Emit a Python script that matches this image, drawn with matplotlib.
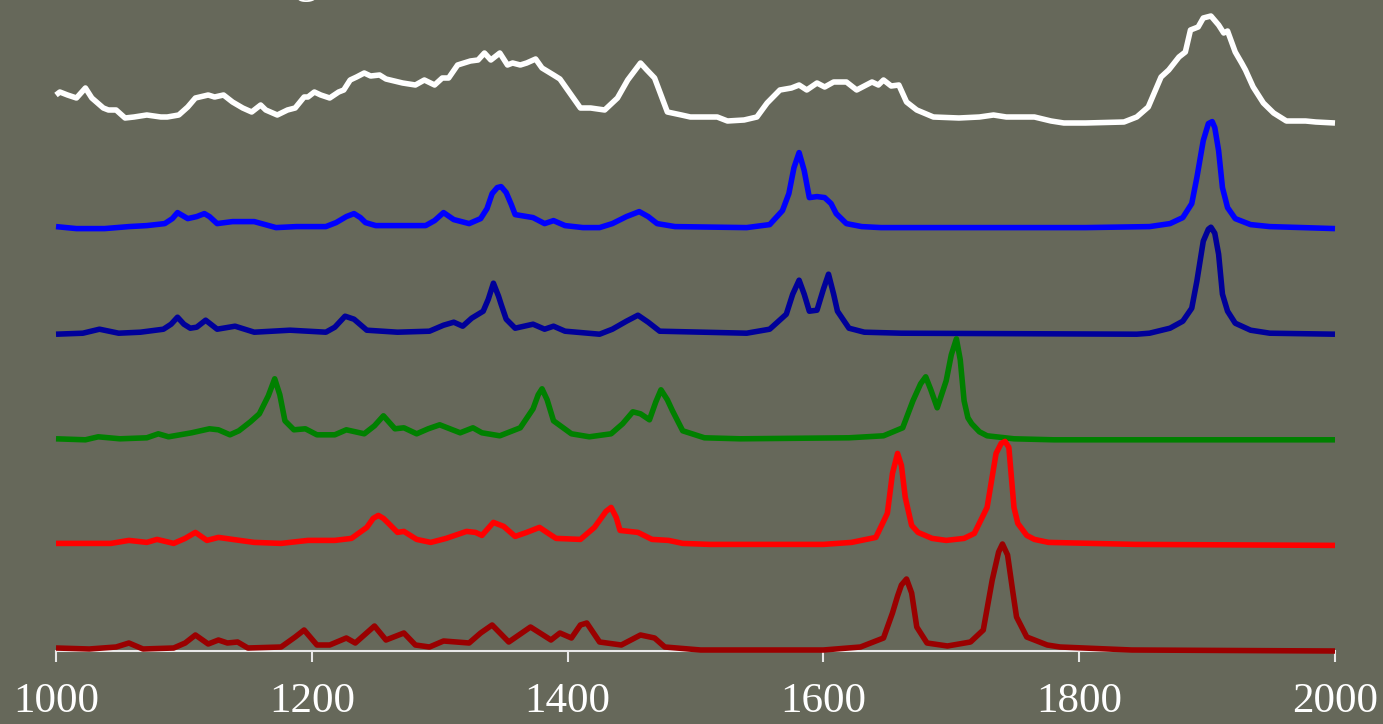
import numpy as np
import matplotlib
matplotlib.use("Agg")
import matplotlib.pyplot as plt

# --- spettri (numero d'onda, intensita' relativa alla propria linea di base) ---
wn_exp = [1000, 1003, 1009, 1016, 1023, 1028, 1037, 1041, 1047, 1054, 1061, 1071, 1082, 1087, 1096,
          1103, 1109, 1119, 1124, 1131, 1138, 1146, 1153, 1160, 1164, 1173, 1181, 1187, 1194, 1197,
          1202, 1207, 1214, 1221, 1225, 1230, 1235, 1241, 1246, 1253, 1258, 1271, 1281, 1288, 1296,
          1302, 1307, 1314, 1319, 1324, 1330, 1335, 1340, 1347, 1353, 1357, 1363, 1368, 1375, 1380,
          1389, 1394, 1410, 1418, 1429, 1439, 1447, 1457, 1462, 1468, 1478, 1489, 1496, 1517, 1525,
          1538, 1548, 1556, 1566, 1575, 1581, 1587, 1595, 1601, 1608, 1618, 1626, 1638, 1643, 1647,
          1653, 1659, 1665, 1673, 1686, 1706, 1722, 1733, 1743, 1765, 1778, 1788, 1805, 1835, 1845,
          1854, 1864, 1870, 1878, 1883, 1887, 1893, 1897, 1903, 1909, 1913, 1916, 1922, 1927, 1930,
          1936, 1944, 1952, 1962, 1977, 1985, 2000]
int_exp = [28, 31, 28, 25, 35, 25, 15, 13, 13, 5, 6, 8, 6, 6, 8,
           16, 25, 28, 26, 28, 21, 15, 11, 18, 13, 8, 13, 15, 26, 26,
           31, 28, 25, 31, 33, 43, 46, 50, 47, 48, 44, 40, 38, 43, 38,
           45, 45, 58, 60, 62, 63, 70, 63, 70, 58, 60, 58, 60, 64, 55,
           48, 44, 15, 15, 13, 25, 43, 60, 53, 45, 11, 8, 6, 6, 2,
           3, 6, 20, 33, 35, 38, 33, 40, 36, 41, 41, 33, 41, 38, 43,
           37, 38, 21, 13, 6, 5, 6, 8, 6, 6, 2, 0, 0, 1, 6,
           16, 46, 53, 66, 71, 93, 96, 105, 107, 98, 90, 92, 71, 60, 53,
           36, 20, 10, 2, 2, 1, 0]

wn_blue = [1000, 1016, 1038, 1057, 1071, 1085, 1091, 1095, 1103, 1110, 1116, 1120, 1126, 1138, 1155,
           1172, 1188, 1211, 1219, 1227, 1233, 1238, 1242, 1250, 1258, 1289, 1296, 1303, 1311, 1323,
           1332, 1337, 1341, 1345, 1348, 1352, 1356, 1359, 1373, 1382, 1389, 1398, 1412, 1425, 1435,
           1446, 1456, 1463, 1470, 1484, 1540, 1558, 1568, 1573, 1577, 1581, 1585, 1589, 1595, 1601,
           1606, 1610, 1618, 1630, 1645, 1805, 1855, 1871, 1881, 1888, 1892, 1897, 1901, 1904, 1906,
           1909, 1912, 1916, 1922, 1934, 1949, 1975, 2000]
int_blue = [2, 0, 0, 2, 3, 5, 10, 16, 10, 12, 15, 12, 5, 7, 7,
            1, 2, 2, 6, 12, 15, 11, 6, 3, 3, 3, 8, 16, 9, 5,
            10, 20, 35, 41, 42, 36, 24, 14, 11, 5, 8, 3, 1, 1, 5,
            12, 17, 12, 5, 2, 1, 4, 18, 35, 61, 76, 58, 31, 32, 31,
            25, 15, 5, 2, 1, 1, 2, 5, 11, 25, 51, 88, 105, 107, 101,
            78, 41, 21, 10, 4, 2, 1, 0]

wn_dblue = [1000, 1021, 1034, 1049, 1066, 1084, 1090, 1095, 1100, 1105, 1110, 1117, 1126, 1140, 1155,
            1183, 1211, 1218, 1226, 1233, 1243, 1267, 1292, 1303, 1311, 1318, 1325, 1334, 1338, 1342,
            1346, 1348, 1352, 1359, 1373, 1382, 1389, 1398, 1425, 1435, 1446, 1455, 1463, 1472, 1540,
            1558, 1571, 1576, 1581, 1585, 1589, 1595, 1600, 1604, 1608, 1611, 1620, 1632, 1661, 1845,
            1855, 1871, 1881, 1888, 1892, 1897, 1901, 1903, 1906, 1909, 1912, 1916, 1922, 1934, 1949,
            2000]
int_dblue = [0, 1, 5, 1, 2, 5, 10, 17, 10, 6, 7, 14, 5, 8, 2,
             4, 2, 7, 18, 15, 4, 2, 3, 9, 12, 8, 16, 23, 35, 51,
             38, 30, 15, 6, 10, 5, 8, 3, 0, 5, 13, 19, 12, 3, 1,
             5, 20, 40, 54, 40, 23, 24, 45, 60, 40, 23, 6, 2, 1, 0,
             1, 6, 13, 26, 53, 93, 105, 107, 101, 80, 40, 23, 11, 4, 1,
             0]

wn_green = [1000, 1023, 1033, 1050, 1071, 1080, 1088, 1106, 1120, 1127, 1136, 1143, 1152, 1159, 1166,
            1171, 1175, 1179, 1186, 1195, 1204, 1218, 1227, 1241, 1249, 1256, 1265, 1272, 1282, 1291,
            1300, 1306, 1316, 1326, 1333, 1347, 1363, 1373, 1377, 1380, 1384, 1389, 1403, 1417, 1434,
            1443, 1451, 1457, 1464, 1469, 1473, 1478, 1482, 1490, 1507, 1535, 1620, 1647, 1662, 1670,
            1676, 1680, 1684, 1689, 1696, 1700, 1704, 1707, 1710, 1713, 1716, 1722, 1728, 1749, 1780,
            1844, 2000]
int_green = [1, 0, 3, 1, 2, 6, 3, 7, 11, 10, 5, 9, 18, 26, 44,
             61, 45, 19, 10, 11, 5, 5, 10, 6, 14, 24, 11, 12, 6, 11,
             15, 12, 7, 12, 7, 4, 12, 31, 45, 51, 40, 19, 6, 3, 6,
             16, 28, 26, 20, 38, 50, 40, 29, 9, 2, 1, 2, 4, 12, 39,
             56, 63, 50, 32, 59, 85, 101, 80, 39, 22, 16, 8, 4, 1, 0,
             0, 0]

wn_red = [1000, 1016, 1043, 1057, 1071, 1079, 1092, 1101, 1109, 1118, 1127, 1138, 1155, 1176, 1197,
          1218, 1231, 1243, 1248, 1252, 1256, 1260, 1267, 1272, 1282, 1293, 1305, 1321, 1328, 1333,
          1342, 1350, 1359, 1368, 1378, 1385, 1391, 1410, 1421, 1430, 1434, 1438, 1441, 1455, 1466,
          1479, 1490, 1511, 1535, 1600, 1622, 1641, 1650, 1654, 1658, 1661, 1664, 1669, 1674, 1685,
          1696, 1710, 1718, 1728, 1735, 1739, 1742, 1745, 1749, 1752, 1759, 1765, 1776, 1844, 2000]
int_red = [2, 2, 2, 5, 3, 6, 2, 7, 13, 5, 8, 6, 3, 2, 5,
           5, 7, 18, 27, 30, 27, 22, 13, 14, 6, 3, 7, 14, 13, 10,
           23, 19, 9, 13, 18, 12, 7, 6, 18, 34, 38, 28, 15, 13, 6,
           5, 2, 1, 1, 1, 3, 8, 32, 72, 92, 80, 48, 20, 13, 7,
           5, 7, 12, 38, 92, 102, 104, 98, 38, 22, 10, 6, 3, 1, 0]

wn_dred = [1000, 1026, 1047, 1057, 1068, 1092, 1101, 1109, 1119, 1127, 1134, 1142, 1150, 1176, 1187,
           1194, 1204, 1214, 1227, 1234, 1249, 1258, 1272, 1281, 1292, 1303, 1323, 1332, 1341, 1354,
           1371, 1387, 1394, 1403, 1410, 1415, 1425, 1442, 1457, 1468, 1476, 1504, 1600, 1629, 1647,
           1654, 1658, 1661, 1665, 1669, 1673, 1681, 1697, 1715, 1725, 1732, 1737, 1740, 1744, 1748,
           1751, 1759, 1775, 1785, 1841, 2000]
int_dred = [3, 2, 4, 8, 2, 3, 8, 16, 7, 11, 8, 9, 3, 4, 14,
            21, 6, 6, 13, 8, 25, 11, 18, 6, 4, 10, 8, 18, 26, 9,
            24, 11, 18, 13, 26, 28, 9, 6, 16, 13, 4, 1, 1, 4, 13,
            38, 55, 66, 72, 58, 24, 8, 5, 9, 21, 71, 99, 107, 96, 60,
            34, 14, 6, 4, 1, 0]

series_x = [wn_exp, wn_blue, wn_dblue, wn_green, wn_red, wn_dred]
series_y = [int_exp, int_blue, int_dblue, int_green, int_red, int_dred]
colori = ['white', '#0000ff', '#00009a', '#008000', '#ff0000', '#9a0000']
xticks = [1000, 1200, 1400, 1600, 1800, 2000]

# spaziatura verticale tra gli spettri
offset_step = 105.6
bg = '#66685a'

fig = plt.figure(figsize=(13.83, 7.24), dpi=100, facecolor=bg)
ax = fig.add_axes([56/1383, 73/724, 1279/1383, 651/724])
ax.set_facecolor(bg)

n = len(series_x)
for i, (xs, ys, c) in enumerate(zip(series_x, series_y, colori)):
    off = (n - 1 - i) * offset_step
    ax.plot(xs, np.array(ys) + off, color=c, lw=4.0, clip_on=False,
            solid_joinstyle='round', solid_capstyle='butt', zorder=2 + i)

ax.set_xlim(1000, 2000)
ax.set_ylim(0, 651)
for s in ['top', 'right', 'left']:
    ax.spines[s].set_visible(False)
ax.spines['bottom'].set_color('#e8e8e8')
ax.spines['bottom'].set_linewidth(1.5)
ax.spines['bottom'].set_zorder(1)
ax.set_yticks([])
ax.set_xticks(xticks)
ax.set_xticklabels([str(t) for t in xticks])
ax.tick_params(axis='x', colors='#e8e8e8', length=8, width=1.5, pad=15,
               labelsize=31, labelcolor='white')
for lab in ax.get_xticklabels():
    lab.set_fontfamily('Liberation Serif')

# titolo tagliato in alto (si vede solo la coda della "g")
fig.text(307/1383, 1.011, 'g', ha='center', va='baseline', color='white',
         fontsize=34, family='Liberation Serif')

fig.savefig('out.png', dpi=100, facecolor=bg)
